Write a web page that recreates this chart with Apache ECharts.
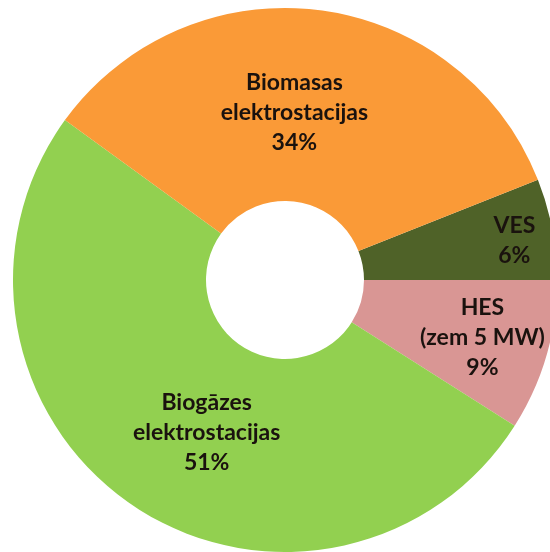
<!DOCTYPE html>
<html>
<head>
<meta charset="utf-8">
<script src="https://cdn.jsdelivr.net/npm/echarts@6/dist/echarts.min.js"></script>
<style>
html,body{margin:0;padding:0;background:#fff;}
#chart{width:550px;height:552px;}
</style>
</head>
<body>
<div id="chart"></div>
<script>
const categories = ['VES', 'HES\n(zem 5 MW)', 'Biogāzes\nelektrostacijas', 'Biomasas\nelektrostacijas'];
const values = [6, 9, 51, 34];
const colors = ['#4F6228', '#D99694', '#92D050', '#FA9A37'];
// label nudges (dx, dy) relative to default inside position
const labelShift = [[54, -6], [26, 8], [22, 5], [-13, 10]];

const chart = echarts.init(document.getElementById('chart'), null, {renderer: 'canvas'});
chart.setOption({
  backgroundColor: '#ffffff',
  animation: false,
  series: [{
    type: 'pie',
    center: [285, 280],
    radius: [79, 272],
    startAngle: 21.6,
    clockwise: true,
    avoidLabelOverlap: false,
    data: categories.map((c, i) => ({name: c, value: values[i], itemStyle: {color: colors[i]}})),
    itemStyle: {borderWidth: 0},
    label: {
      show: true,
      position: 'inside',
      formatter: p => p.name + '\n' + p.value + '%',
      fontFamily: 'Lato',
      fontWeight: 'bold',
      fontSize: 23,
      lineHeight: 30,
      color: '#1a120e',
      align: 'center'
    },
    labelLine: {show: false},
    labelLayout: function (params) {
      const s = labelShift[params.dataIndex];
      return {dx: s[0], dy: s[1]};
    }
  }]
});
</script>
</body>
</html>
